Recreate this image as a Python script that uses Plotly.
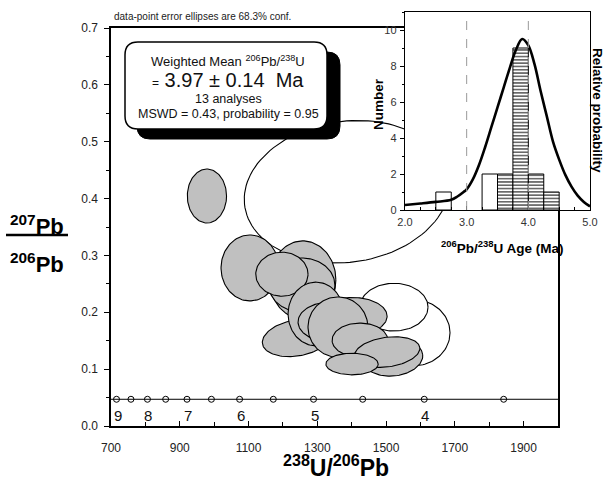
import numpy as np
import plotly.graph_objects as go

# ---------------- data ----------------
# error ellipses (238U/206Pb, 207Pb/206Pb): centre, semi-axes, tilt (deg), used in mean
ell_cx = [1386, 1581, 1523,
          979, 1104, 1258, 1255, 1197, 1241, 1296, 1337, 1404, 1360, 1424, 1520, 1503, 1401]
ell_cy = [0.412, 0.164, 0.209,
          0.4045, 0.278, 0.257, 0.248, 0.267, 0.155, 0.197, 0.183, 0.193, 0.174, 0.151, 0.120, 0.130, 0.109]
ell_rx = [300, 105, 99,
          57, 84, 96, 96, 76, 102, 81, 93, 99, 87, 81, 87, 96, 76]
ell_ry = [0.124, 0.058, 0.042,
          0.0475, 0.058, 0.0686, 0.0475, 0.0387, 0.0317, 0.056, 0.035, 0.033, 0.053, 0.030, 0.032, 0.026, 0.019]
ell_tilt = [8, 0, 0,
            0, 0, 0, 0, 0, 10, 0, 0, 0, 0, 0, 6, 8, 0]
ell_used = [False, False, False,
            True, True, True, True, True, True, True, True, True, True, True, True, True, True]

# concordia (Tera-Wasserburg) age ticks
conc_ratio = 0.047
conc_age = [9, 8.5, 8, 7.5, 7, 6.5, 6, 5.5, 5, 4.5, 4, 3.5]
conc_x = [716, 758, 806, 859, 921, 992, 1074, 1172, 1289, 1432, 1611, 1842]

# inset histogram of 206Pb/238U ages
hist_left = [2.5, 3.25, 3.5, 3.75, 4.0, 4.25]
hist_count = [1, 2, 2, 9, 2, 1]
hist_used = [False, False, True, True, True, True]
bin_width = 0.25

# relative probability curve
pdf_age = [2.0, 2.25, 2.5, 2.75, 2.85, 2.95, 3.0, 3.1, 3.2, 3.3, 3.4, 3.5, 3.6, 3.7, 3.8, 3.9,
           4.0, 4.1, 4.2, 4.3, 4.4, 4.5, 4.6, 4.7, 4.8, 4.9, 5.0]
pdf_val = [0.28, 0.36, 0.45, 0.57, 0.75, 1.0, 1.15, 1.7, 2.5, 3.5, 4.6, 5.7, 6.8, 7.9, 8.9, 9.5,
           9.15, 8.1, 6.6, 5.2, 3.8, 2.8, 1.95, 1.3, 0.8, 0.45, 0.2]
inset_ref_ages = [3.0, 4.0]

mean_age = "3.97"
mean_err = "0.14"
n_analyses = 13
mswd = "0.43"
prob = "0.95"

# ---------------- figure ----------------
W, H = 604, 481
FONT = "Arial, 'Liberation Sans', sans-serif"


def PX(x):
    return x / W


def PY(y):
    return 1 - y / H


fig = go.Figure()

# ellipses
K = (1300 / 447) / (0.7 / 398)  # x-units per y-unit at equal pixel length
t = np.linspace(0, 2 * np.pi, 120)
for cx, cy, rx, ry, tilt, used in zip(ell_cx, ell_cy, ell_rx, ell_ry, ell_tilt, ell_used):
    phi = np.deg2rad(tilt)
    ryx = ry * K
    X = rx * np.cos(t) * np.cos(phi) - ryx * np.sin(t) * np.sin(phi)
    Y = rx * np.cos(t) * np.sin(phi) + ryx * np.sin(t) * np.cos(phi)
    fig.add_trace(go.Scatter(
        x=cx + X, y=cy + Y / K, mode="lines", fill="toself",
        fillcolor="#c0c0c0" if used else "white",
        line=dict(color="black", width=1.1),
        hoverinfo="skip", showlegend=False, xaxis="x", yaxis="y"))

# concordia ticks
fig.add_shape(type="line", xref="x domain", yref="y", x0=0, x1=1,
              y0=conc_ratio, y1=conc_ratio, line=dict(color="black", width=1))
fig.add_trace(go.Scatter(
    x=conc_x, y=[conc_ratio] * len(conc_x), mode="markers",
    marker=dict(symbol="circle", size=6, color="white", line=dict(color="black", width=1)),
    hoverinfo="skip", showlegend=False, xaxis="x", yaxis="y"))
for x, a in zip(conc_x, conc_age):
    if float(a).is_integer():
        fig.add_annotation(text=str(int(a)), x=x, y=conc_ratio, xref="x", yref="y",
                           showarrow=False, yshift=-16, xshift=1,
                           font=dict(family=FONT, size=15, color="#111"))

# inset histogram
fig.add_trace(go.Bar(
    x=hist_left, y=hist_count, width=bin_width, offset=0,
    marker=dict(color="white", line=dict(color="black", width=1),
                pattern=dict(shape=["-" if u else "" for u in hist_used],
                             fgcolor="#444", bgcolor="white", size=3.3, solidity=0.4)),
    hoverinfo="skip", showlegend=False, xaxis="x2", yaxis="y2"))
fig.add_trace(go.Scatter(
    x=pdf_age, y=pdf_val, mode="lines", line=dict(color="black", width=2.6, shape="spline"),
    hoverinfo="skip", showlegend=False, xaxis="x2", yaxis="y2"))
for a in inset_ref_ages:
    fig.add_shape(type="line", xref="x2", yref="y2 domain", x0=a, x1=a, y0=0, y1=1,
                  line=dict(color="#999", width=1, dash="dash"), layer="above")


def rrect(x0, y0, x1, y1, r):
    return (f"M {PX(x0 + r)},{PY(y0)} L {PX(x1 - r)},{PY(y0)} "
            f"Q {PX(x1)},{PY(y0)} {PX(x1)},{PY(y0 + r)} L {PX(x1)},{PY(y1 - r)} "
            f"Q {PX(x1)},{PY(y1)} {PX(x1 - r)},{PY(y1)} L {PX(x0 + r)},{PY(y1)} "
            f"Q {PX(x0)},{PY(y1)} {PX(x0)},{PY(y1 - r)} L {PX(x0)},{PY(y0 + r)} "
            f"Q {PX(x0)},{PY(y0)} {PX(x0 + r)},{PY(y0)} Z")


# weighted-mean box with shadow
fig.add_shape(type="path", xref="paper", yref="paper", path=rrect(137, 52, 340, 139, 13),
              fillcolor="black", line=dict(color="black", width=1), layer="above")
fig.add_shape(type="path", xref="paper", yref="paper", path=rrect(125, 42, 327, 129, 13),
              fillcolor="white", line=dict(color="black", width=1.5), layer="above")

# fraction line of y title
fig.add_shape(type="line", xref="paper", yref="paper", x0=PX(6), x1=PX(68),
              y0=PY(235), y1=PY(235), line=dict(color="black", width=2.6), layer="above")


def ann(text, x, y, size, bold=False, angle=0, xanchor="center", color="black"):
    fig.add_annotation(text=f"<b>{text}</b>" if bold else text, x=PX(x), y=PY(y),
                       xref="paper", yref="paper", showarrow=False, textangle=angle,
                       xanchor=xanchor, yanchor="middle",
                       font=dict(family=FONT, size=size, color=color))


ann("data-point error ellipses are 68.3% conf.", 112, 17, 10, xanchor="left", color="#222")
ann("Weighted Mean <sup>206</sup>Pb/<sup>238</sup>U", 228, 61, 13, color="#111")
ann(f"<span style='font-size:12px'>=</span> {mean_age} ± {mean_err} \u00a0Ma", 228, 80, 20, color="#111")
ann(f"{n_analyses} analyses", 228, 99, 12.5, color="#111")
ann(f"MSWD = {mswd}, probability = {prob}", 228, 114, 12.5, color="#111")

ann("<sup>207</sup>Pb", 37, 225, 22, bold=True)
ann("<sup>206</sup>Pb", 37, 263, 22, bold=True)
ann("<sup>238</sup>U/<sup>206</sup>Pb", 336, 466, 23, bold=True)

ann("Number", 378, 104, 13.5, bold=True, angle=-90)
ann("Relative probability", 598, 110, 13.5, bold=True, angle=90)
ann("<sup>206</sup>Pb/<sup>238</sup>U Age (Ma)", 502, 247, 13.5, bold=True)

axis_common = dict(showline=True, linecolor="black", mirror=True, showgrid=False,
                   zeroline=False, tickcolor="black", automargin=False)

fig.update_layout(
    template="none",
    width=W, height=H, margin=dict(l=0, r=0, t=0, b=0, pad=0, autoexpand=False),
    paper_bgcolor="white", plot_bgcolor="white", showlegend=False, bargap=0,
    font=dict(family=FONT, color="#222"),
    xaxis=dict(domain=[PX(111), PX(558)], range=[700, 2000], linewidth=1.6,
               tickmode="linear", tick0=700, dtick=200, ticks="inside", ticklen=5,
               minor=dict(dtick=100, tick0=700, ticks="inside", ticklen=4, tickcolor="black"),
               tickfont=dict(size=12, family=FONT, color="#222"), ticklabelstandoff=10,
               anchor="y", **axis_common),
    yaxis=dict(domain=[PY(426), PY(28)], range=[0, 0.7], linewidth=1.6,
               tickmode="linear", tick0=0, dtick=0.1, tickformat=".1f",
               ticks="outside", ticklen=5,
               minor=dict(dtick=0.05, tick0=0, ticks="outside", ticklen=3, tickcolor="black"),
               tickfont=dict(size=12, family=FONT, color="#222"), ticklabelstandoff=4,
               anchor="x", **axis_common),
    xaxis2=dict(domain=[PX(405), PX(590)], range=[2, 5], linewidth=1.2,
                tickmode="linear", tick0=2, dtick=1, tickformat=".1f", ticks="inside", ticklen=4,
                minor=dict(dtick=0.25, tick0=2, ticks="inside", ticklen=3, tickcolor="black"),
                tickfont=dict(size=11, family=FONT, color="#333"), ticklabelstandoff=2,
                anchor="y2", **axis_common),
    yaxis2=dict(domain=[PY(210), PY(12)], range=[0, 11], linewidth=1.2,
                tickmode="linear", tick0=0, dtick=2, ticks="outside", ticklen=4,
                minor=dict(dtick=1, tick0=0, ticks="outside", ticklen=2, tickcolor="black"),
                tickfont=dict(size=11, family=FONT, color="#333"), ticklabelstandoff=1,
                anchor="x2", **axis_common),
)

fig.write_html("out.html", config={"displayModeBar": False, "staticPlot": True},
               post_script="document.body.style.margin='0';")
